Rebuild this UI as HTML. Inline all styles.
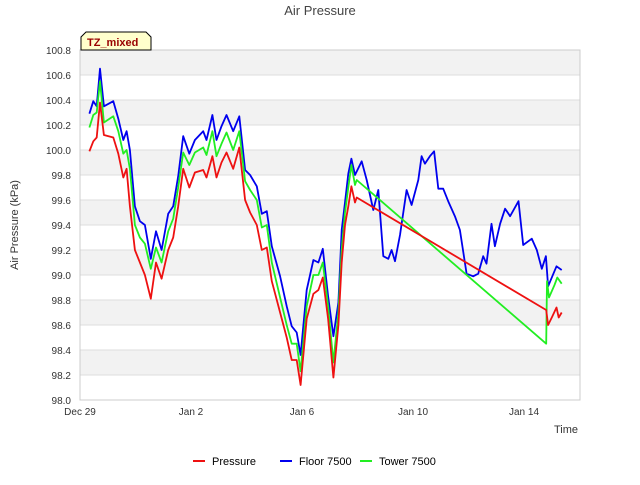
<!DOCTYPE html>
<html><head><meta charset="utf-8"><style>
body{margin:0;background:#fff;font-family:"Liberation Sans",sans-serif}
</style></head><body>
<svg id="c" width="640" height="480" xmlns="http://www.w3.org/2000/svg" font-family="Liberation Sans, sans-serif">
<text x="320" y="15" text-anchor="middle" font-size="13" fill="#444">Air Pressure</text>
<g id="grid"></g>
<rect x="80" y="50" width="500" height="350" fill="none" stroke="#ccc"/>
<g id="series"></g>
<g id="axes" font-size="10" fill="#333"></g>
<text transform="translate(18,225) rotate(-90)" text-anchor="middle" font-size="11" fill="#333">Air Pressure (kPa)</text>
<text x="578" y="433" text-anchor="end" font-size="11" fill="#333">Time</text>
<g>
<path d="M81,37 L86,32 L146,32 L151,37 L151,50 L81,50 Z" fill="#ffffcc" stroke="#000"/>
<text x="87" y="46" font-size="11" font-weight="bold" fill="#990000">TZ_mixed</text></g>
<g id="legend" font-size="11" fill="#000"></g>
</svg>
<script>
const yTicks=[98.0,98.2,98.4,98.6,98.8,99.0,99.2,99.4,99.6,99.8,100.0,100.2,100.4,100.6,100.8];
const xTickDays=[0,4,8,12,16];
const xTickLabels=["Dec 29","Jan 2","Jan 6","Jan 10","Jan 14"];
const blueDays=[0.34,0.48,0.6,0.72,0.86,1.2,1.38,1.56,1.68,1.8,1.98,2.16,2.34,2.55,2.74,2.94,3.18,3.36,3.54,3.72,3.94,4.14,4.44,4.56,4.77,4.92,5.1,5.28,5.52,5.74,5.95,6.13,6.37,6.55,6.73,6.91,7.21,7.45,7.63,7.81,7.95,8.17,8.41,8.59,8.75,8.94,9.13,9.31,9.43,9.55,9.67,9.78,9.91,10.15,10.33,10.57,10.75,10.93,11.11,11.23,11.35,11.53,11.77,11.95,12.19,12.31,12.43,12.61,12.76,12.91,13.09,13.27,13.51,13.69,13.93,14.17,14.35,14.53,14.65,14.83,14.95,15.14,15.32,15.5,15.8,15.97,16.28,16.46,16.64,16.79,16.87,17.17,17.36];
const blueVals=[100.29,100.39,100.35,100.65,100.35,100.39,100.25,100.08,100.15,100.0,99.55,99.43,99.4,99.13,99.35,99.2,99.49,99.55,99.79,100.11,99.97,100.08,100.15,100.08,100.28,100.08,100.19,100.28,100.15,100.27,99.84,99.8,99.71,99.49,99.51,99.23,98.99,98.75,98.59,98.54,98.36,98.88,99.12,99.1,99.21,98.83,98.51,98.78,99.36,99.58,99.81,99.93,99.8,99.91,99.76,99.52,99.68,99.15,99.13,99.2,99.11,99.32,99.68,99.56,99.76,99.95,99.89,99.95,99.99,99.69,99.69,99.59,99.47,99.36,99.01,98.99,99.01,99.15,99.09,99.41,99.23,99.41,99.53,99.47,99.59,99.24,99.29,99.2,99.05,99.15,98.91,99.07,99.04];
const redDays=[0.34,0.48,0.6,0.72,0.86,1.2,1.38,1.56,1.68,1.8,1.98,2.16,2.34,2.55,2.74,2.94,3.18,3.36,3.54,3.72,3.94,4.14,4.44,4.56,4.77,4.92,5.1,5.28,5.52,5.74,5.95,6.13,6.37,6.55,6.73,6.91,7.21,7.45,7.63,7.81,7.95,8.17,8.41,8.59,8.75,8.94,9.13,9.31,9.43,9.55,9.67,9.78,9.91,9.97,16.8,16.87,17.0,17.17,17.25,17.36];
const redVals=[99.99,100.07,100.1,100.38,100.12,100.1,99.97,99.78,99.85,99.55,99.2,99.1,99.0,98.81,99.1,98.97,99.2,99.3,99.55,99.85,99.7,99.82,99.84,99.78,99.95,99.78,99.9,99.98,99.85,100.02,99.6,99.5,99.4,99.2,99.22,98.95,98.7,98.5,98.32,98.32,98.12,98.65,98.85,98.88,98.98,98.65,98.18,98.6,99.1,99.4,99.55,99.71,99.58,99.62,98.72,98.6,98.66,98.74,98.66,98.7];
const greenDays=[0.34,0.48,0.6,0.72,0.86,1.2,1.38,1.56,1.68,1.8,1.98,2.16,2.34,2.55,2.74,2.94,3.18,3.36,3.54,3.72,3.94,4.14,4.44,4.56,4.77,4.92,5.1,5.28,5.52,5.74,5.95,6.13,6.37,6.55,6.73,6.91,7.21,7.45,7.63,7.81,7.95,8.17,8.41,8.59,8.75,8.94,9.13,9.31,9.43,9.55,9.67,9.78,9.91,9.97,16.8,16.83,16.9,17.1,17.2,17.36];
const greenVals=[100.18,100.28,100.3,100.55,100.22,100.27,100.15,99.97,100.0,99.85,99.4,99.3,99.25,99.05,99.22,99.1,99.35,99.45,99.7,99.98,99.88,99.98,100.02,99.96,100.15,99.95,100.05,100.14,100.0,100.15,99.75,99.68,99.6,99.38,99.4,99.1,98.82,98.6,98.45,98.45,98.23,98.75,99.0,99.0,99.1,98.75,98.3,98.7,99.2,99.5,99.7,99.88,99.72,99.76,98.45,98.95,98.82,98.92,98.98,98.93];
const NS="http://www.w3.org/2000/svg";
const X=d=>80+d*27.75;
const Y=v=>50+(100.8-v)*125;
function mk(tag,parent){const e=document.createElementNS(NS,tag);document.getElementById(parent).appendChild(e);return e;}
for(let i=0;i<yTicks.length-1;i++){
  if(i%2===1){const r=mk('rect','grid');
    
    
    r.setAttribute('x',80);r.setAttribute('width',500);
    r.setAttribute('y',Y(yTicks[i+1]));r.setAttribute('height',Y(yTicks[i])-Y(yTicks[i+1]));r.setAttribute('fill','#f2f2f2');}
}
yTicks.forEach(v=>{
  const l=mk('line','grid');
  
  
  l.setAttribute('x1',80);l.setAttribute('x2',580);l.setAttribute('y1',Y(v));l.setAttribute('y2',Y(v));l.setAttribute('stroke','#ddd');
  const t=mk('text','axes');
  
  
  t.setAttribute('x',71);t.setAttribute('y',Y(v)+4);t.setAttribute('text-anchor','end');t.textContent=v.toFixed(1);
});
xTickDays.forEach((d,i)=>{
  const t=mk('text','axes');
  
  
  t.setAttribute('x',X(d));t.setAttribute('y',415);t.setAttribute('text-anchor','middle');t.textContent=xTickLabels[i];
});
function line(days,vals,color,name){
  const p=mk('polyline','series');
  
  
  p.setAttribute('points',days.map((d,i)=>X(d).toFixed(1)+','+Y(vals[i]).toFixed(1)).join(' '));
  p.setAttribute('fill','none');p.setAttribute('stroke',color);p.setAttribute('stroke-width',1.8);p.setAttribute('stroke-linejoin','round');
}
line(blueDays,blueVals,'#0000ee','floor-7500-line');
line(greenDays,greenVals,'#22ee22','tower-7500-line');
line(redDays,redVals,'#ee1111','pressure-line');
[['Pressure','#ee1111',193],['Floor 7500','#0000ee',280],['Tower 7500','#22ee22',360]].forEach(([n,c,x])=>{
  const l=mk('line','legend');
  
  
  l.setAttribute('x1',x);l.setAttribute('x2',x+12);l.setAttribute('y1',461);l.setAttribute('y2',461);l.setAttribute('stroke',c);l.setAttribute('stroke-width',2);
  const t=mk('text','legend');
  
  
  t.setAttribute('x',x+19);t.setAttribute('y',465);t.textContent=n;
});
</script>
</body></html>
